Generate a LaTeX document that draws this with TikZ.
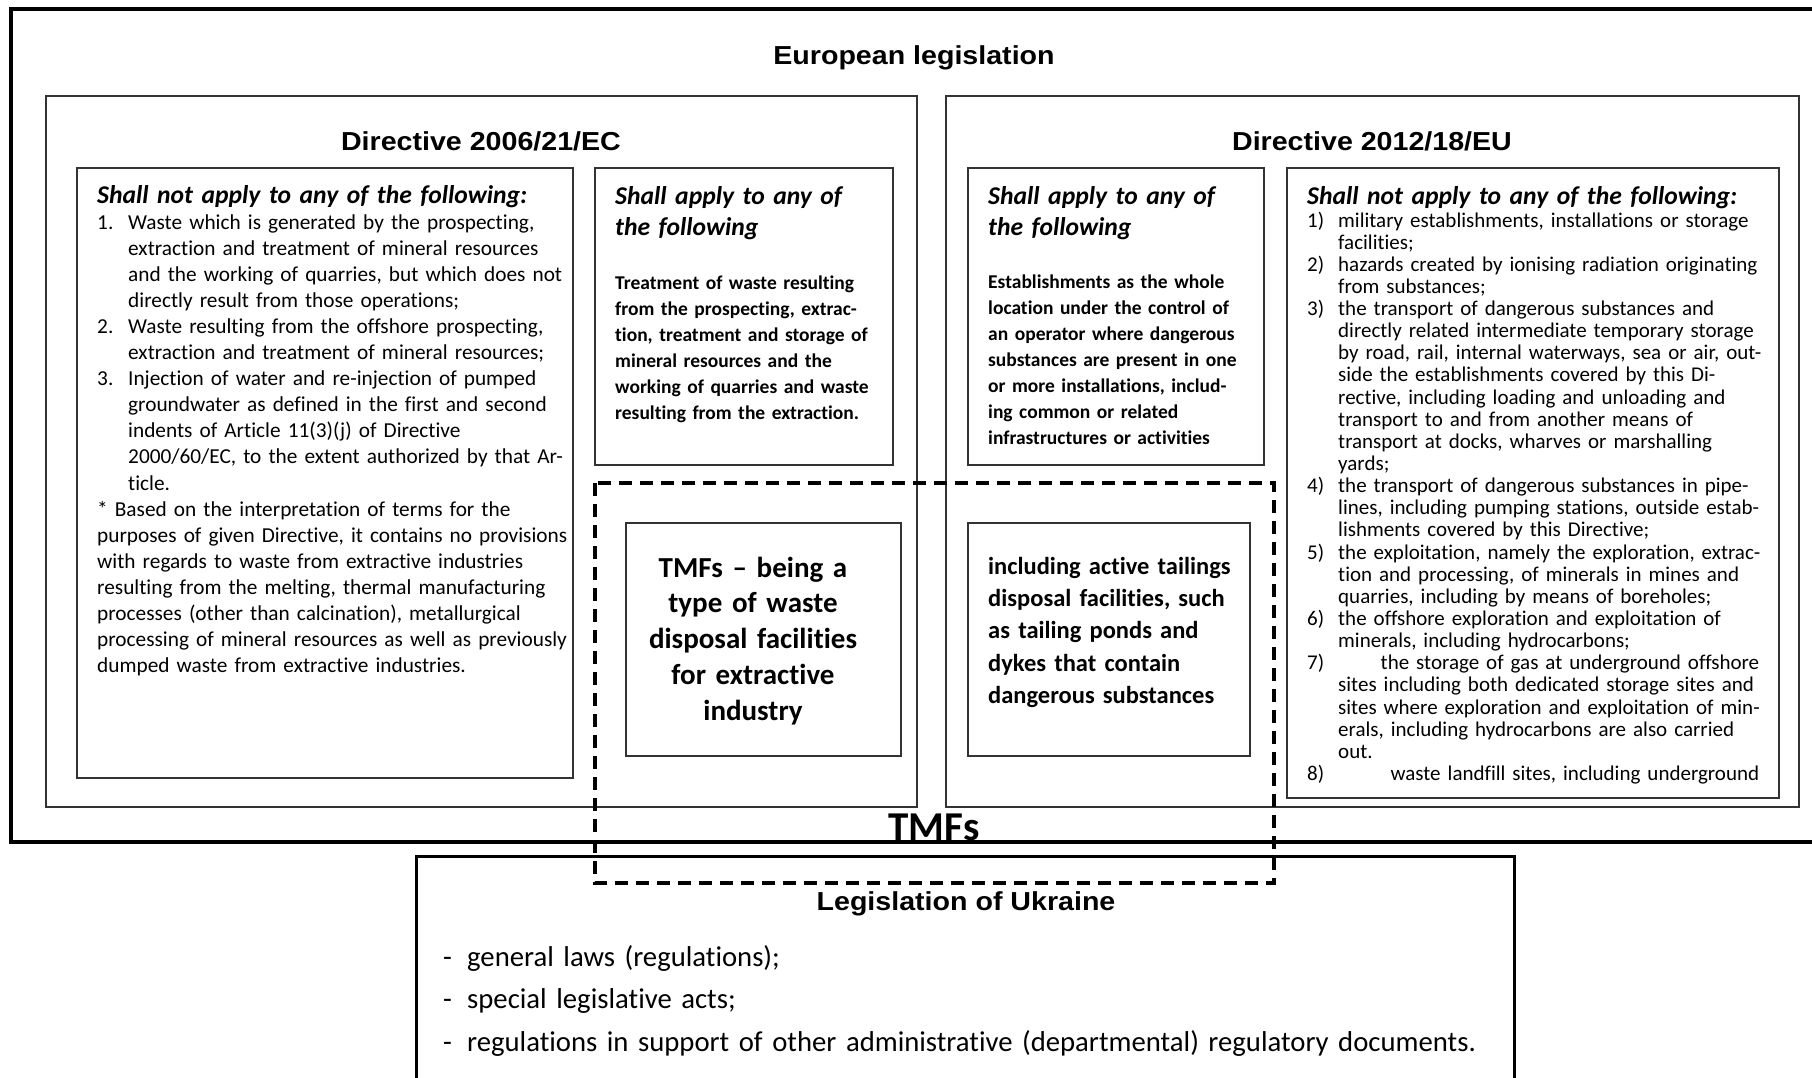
\documentclass[tikz,border=0pt]{standalone}
\usepackage{fontspec}
\setmainfont{Carlito}[Ligatures={TeX,NoCommon,NoRequired,NoContextual}, Contextuals=NoAlternate]
\newfontfamily\arialf{Liberation Sans}
\newcommand{\ttl}[1]{\scalebox{1.1}[1]{\arialf\bfseries\fontsize{26}{28}\selectfont #1}}
\newcommand{\nb}[1]{\makebox[31pt][l]{#1}}
\newcommand{\ind}{\hspace*{31pt}}
\begin{document}
\begin{tikzpicture}[x=1pt,y=-1pt,
  outerbox/.style={draw=black, line width=3.6pt},
  ukrbox/.style={draw=black, line width=3pt},
  dirbox/.style={draw=black!80, line width=1.6pt},
  inbox/.style={draw=black!80, line width=1.8pt},
  dashbox/.style={draw=black, line width=4pt, dash pattern=on 13pt off 8pt},
  ttlnode/.style={inner sep=0pt, anchor=base},
  txt/.style={inner sep=0pt, anchor=base west, align=left, text width=#1},
  txt/.default=500pt,
  headfont/.style={font=\bfseries\itshape\fontsize{25.6}{31.5}\selectfont},
  listA/.style={font=\fontsize{21.3}{26.1}\selectfont},
  listF/.style={font=\fontsize{21}{22.14}\selectfont},
  bodyB/.style={font=\bfseries\fontsize{19.5}{26.1}\selectfont},
]
\useasboundingbox (0,0) rectangle (1812,1077);
\clip (0,0) rectangle (1812,1077);
\fill[white] (0,0) rectangle (1812,1077);

% frames
\draw[outerbox] (11,9) rectangle (1840,842);
\draw[dirbox] (46,96) rectangle (917,807);
\draw[dirbox] (946,96) rectangle (1799,807);
\draw[inbox] (77,168) rectangle (573,778);
\draw[inbox] (595,168) rectangle (893,465);
\draw[inbox] (626,523) rectangle (901,756);
\draw[inbox] (968,168) rectangle (1264,465);
\draw[inbox] (968,523) rectangle (1250,756);
\draw[inbox] (1287,168) rectangle (1779,798);
\draw[ukrbox] (416,856) rectangle (1514,1110);
\draw[dashbox] (595,483) rectangle (1274,883);

% titles
\node[ttlnode] (eu) at (914,64) {\ttl{European legislation}};
\node[ttlnode] (d2006) at (481,150) {\ttl{Directive 2006/21/EC}};
\node[ttlnode] (d2012) at (1372,150) {\ttl{Directive 2012/18/EU}};
\node[ttlnode] (ukr) at (966,910) {\ttl{Legislation of Ukraine}};
\node[ttlnode, font=\bfseries\fontsize{41}{44}\selectfont] (tmfs) at (934,840) {TMFs};

% box A
\node[txt, headfont] (ahead) at (97,203) {Shall not apply to any of the following:};
\node[txt, listA] (alist) at (97,229) {%
\nb{1.}Waste which is generated by the prospecting,\\
\ind extraction and treatment of mineral resources\\
\ind and the working of quarries, but which does not\\
\ind directly result from those operations;\\
\nb{2.}Waste resulting from the offshore prospecting,\\
\ind extraction and treatment of mineral resources;\\
\nb{3.}Injection of water and re-injection of pumped\\
\ind groundwater as defined in the first and second\\
\ind indents of Article 11(3)(j) of Directive\\
\ind 2000/60/EC, to the extent authorized by that Ar-\\
\ind ticle.\\
\relax{*} Based on the interpretation of terms for the\\
purposes of given Directive, it contains no provisions\\
with regards to waste from extractive industries\\
resulting from the melting, thermal manufacturing\\
processes (other than calcination), metallurgical\\
processing of mineral resources as well as previously\\
dumped waste from extractive industries.};

% box B
\node[txt, headfont] (bhead) at (615,204) {Shall apply to any of\\the following};
\node[txt, bodyB] (bbody) at (615,289) {%
\makebox[262pt][s]{Treatment of waste resulting}\\
\makebox[262pt][s]{from the prospecting, extrac-}\\
\makebox[262pt][s]{tion, treatment and storage of}\\
\makebox[262pt][s]{mineral resources and the}\\
\makebox[262pt][s]{working of quarries and waste}\\
resulting from the extraction.};

% box C
\node[inner sep=0pt, anchor=base, align=center, text width=270pt,
  font=\bfseries\fontsize{29}{35.8}\selectfont] (cbody) at (753,577)
  {TMFs – being a\\type of waste\\disposal facilities\\for extractive\\industry};

% box D
\node[txt, headfont] (dhead) at (988,204) {\makebox[244pt][s]{Shall apply to any of}\\the following};
\node[txt, bodyB] (dbody) at (988,288) {%
\makebox[244pt][s]{Establishments as the whole}\\
\makebox[244pt][s]{location under the control of}\\
\makebox[244pt][s]{an operator where dangerous}\\
\makebox[244pt][s]{substances are present in one}\\
\makebox[244pt][s]{or more installations, includ-}\\
\makebox[244pt][s]{ing common or related}\\
infrastructures or activities};

% box E
\node[txt, font=\bfseries\fontsize{24.5}{32.4}\selectfont] (ebody) at (988,574)
  {including active tailings\\disposal facilities, such\\as tailing ponds and\\dykes that contain\\dangerous substances};

% box F
\node[txt, headfont] (fhead) at (1307,204) {Shall not apply to any of the following:};
\node[txt, listF] (flist) at (1307,227) {%
\nb{1)}military establishments, installations or storage\\
\ind facilities;\\
\nb{2)}hazards created by ionising radiation originating\\
\ind from substances;\\
\nb{3)}the transport of dangerous substances and\\
\ind directly related intermediate temporary storage\\
\ind by road, rail, internal waterways, sea or air, out-\\
\ind side the establishments covered by this Di-\\
\ind rective, including loading and unloading and\\
\ind transport to and from another means of\\
\ind transport at docks, wharves or marshalling\\
\ind yards;\\
\nb{4)}the transport of dangerous substances in pipe-\\
\ind lines, including pumping stations, outside estab-\\
\ind lishments covered by this Directive;\\
\nb{5)}the exploitation, namely the exploration, extrac-\\
\ind tion and processing, of minerals in mines and\\
\ind quarries, including by means of boreholes;\\
\nb{6)}\makebox[421pt][s]{the offshore exploration and exploitation of}\\
\ind minerals, including hydrocarbons;\\
\nb{7)}\makebox[421pt][r]{the storage of gas at underground offshore}\\
\ind \makebox[421pt][s]{sites including both dedicated storage sites and}\\
\ind \makebox[421pt][s]{sites where exploration and exploitation of min-}\\
\ind \makebox[421pt][s]{erals, including hydrocarbons are also carried}\\
\ind out.\\
\nb{8)}\makebox[421pt][r]{waste landfill sites, including underground}};

% Ukraine list
\node[txt=1200pt, font=\fontsize{28.7}{42.5}\selectfont] (ulist) at (443,966) {%
\makebox[24pt][l]{-}general laws (regulations);\\
\makebox[24pt][l]{-}special legislative acts;\\
\makebox[24pt][l]{-}regulations in support of other administrative (departmental) regulatory documents.};
\end{tikzpicture}
\end{document}
